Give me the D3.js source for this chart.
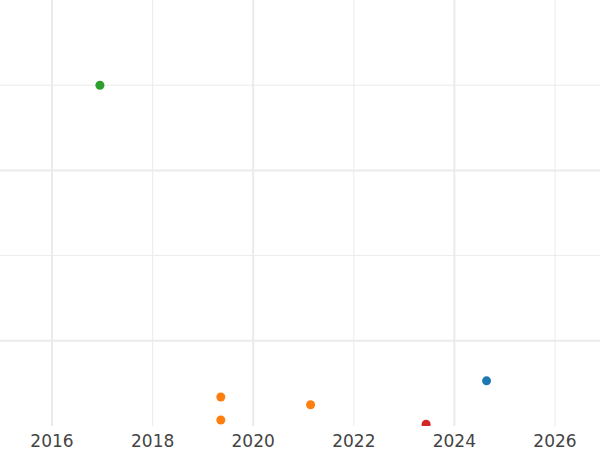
<!DOCTYPE html>
<html>
<head>
<meta charset="utf-8">
<script src="https://cdn.jsdelivr.net/npm/d3@7"></script>
<style>
    body { margin: 0; background: #fff; }
    svg { display: block; }
    .tick-label { font-family: "DejaVu Sans", sans-serif; font-size: 17px; fill: #444; }
</style>
</head>
<body>
<div id="chart"></div>
<script>
// data
const dates = ["2016-12-14", "2019-05-11", "2019-05-11", "2021-02-21", "2023-06-10", "2024-08-22"];
const values = [3.0, -0.66, -0.93, -0.75, -0.98, -0.47];
const groups = ["c", "b", "b", "b", "d", "a"];
const groupNames = ["a", "b", "c", "d"];
const groupColors = ["#1f77b4", "#ff7f0e", "#2ca02c", "#d62728"];
const xTickYears = [2016, 2018, 2020, 2022, 2024, 2026];
const yMajor = [0, 2];
const yMinor = [1, 3];

const width = 600;
const height = 450;
const plotBottom = 426;

const svg = d3.select("#chart")
    .append("svg")
    .attr("width", width)
    .attr("height", height);

const parse = d3.timeParse("%Y-%m-%d");

const x = d3.scaleTime()
    .domain([new Date(2016, 0, 1), new Date(2026, 0, 1)])
    .range([52, 555]);

const y = d3.scaleLinear()
    .domain([-1, 4])
    .range([plotBottom, 0]);

const color = d3.scaleOrdinal()
    .domain(groupNames)
    .range(groupColors);

svg.append("clipPath")
    .attr("id", "plot-clip")
    .append("rect")
    .attr("x", 0)
    .attr("y", 0)
    .attr("width", width)
    .attr("height", plotBottom);

const grid = svg.append("g").attr("clip-path", "url(#plot-clip)");

// minor lines: odd years and odd y values
const xMinor = xTickYears.filter(d => (d - 2016) % 4 !== 0);
const xMajor = xTickYears.filter(d => (d - 2016) % 4 === 0);

grid.selectAll(".vminor")
    .data(xMinor)
    .enter()
    .append("line")
    .attr("x1", d => x(new Date(d, 0, 1)))
    .attr("x2", d => x(new Date(d, 0, 1)))
    .attr("y1", 0)
    .attr("y2", plotBottom)
    .attr("stroke", "#ebebeb")
    .attr("stroke-width", 1);

grid.selectAll(".hminor")
    .data(yMinor)
    .enter()
    .append("line")
    .attr("x1", 0)
    .attr("x2", width)
    .attr("y1", d => y(d))
    .attr("y2", d => y(d))
    .attr("stroke", "#ebebeb")
    .attr("stroke-width", 1);

grid.selectAll(".vmajor")
    .data(xMajor)
    .enter()
    .append("line")
    .attr("x1", d => x(new Date(d, 0, 1)))
    .attr("x2", d => x(new Date(d, 0, 1)))
    .attr("y1", 0)
    .attr("y2", plotBottom)
    .attr("stroke", "#ebebeb")
    .attr("stroke-width", 2);

grid.selectAll(".hmajor")
    .data(yMajor)
    .enter()
    .append("line")
    .attr("x1", 0)
    .attr("x2", width)
    .attr("y1", d => y(d))
    .attr("y2", d => y(d))
    .attr("stroke", "#ebebeb")
    .attr("stroke-width", 2);

// points
const points = dates.map((d, i) => ({ date: parse(d), value: values[i], group: groups[i] }));

svg.append("g")
    .attr("clip-path", "url(#plot-clip)")
    .selectAll("circle")
    .data(points)
    .enter()
    .append("circle")
    .attr("cx", d => x(d.date))
    .attr("cy", d => y(d.value))
    .attr("r", 4.5)
    .attr("fill", d => color(d.group));

// x tick labels
svg.append("g")
    .selectAll("text")
    .data(xTickYears)
    .enter()
    .append("text")
    .attr("class", "tick-label")
    .attr("x", d => x(new Date(d, 0, 1)))
    .attr("y", 447)
    .attr("text-anchor", "middle")
    .text(d => d);
</script>
</body>
</html>
